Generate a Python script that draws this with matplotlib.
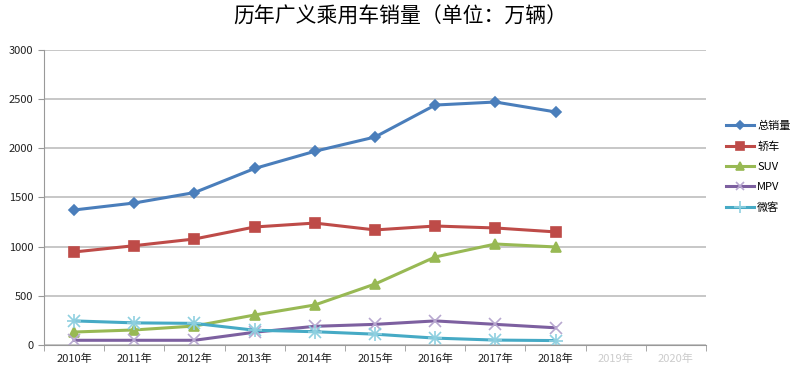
import numpy as np
import matplotlib.pyplot as plt

plt.rcParams['font.family'] = ['Noto Sans CJK SC', 'DejaVu Sans']

years = ['2010年', '2011年', '2012年', '2013年', '2014年', '2015年',
         '2016年', '2017年', '2018年', '2019年', '2020年']
total = [1373, 1444, 1550, 1795, 1970, 2115, 2440, 2471, 2370]
sedan = [946, 1010, 1078, 1200, 1240, 1170, 1210, 1190, 1150]
suv = [132, 153, 193, 305, 407, 620, 895, 1027, 997]
mpv = [48, 48, 48, 130, 190, 210, 245, 210, 175]
micro = [245, 225, 220, 150, 135, 110, 70, 50, 45]

series = [('总销量', total, '#4A7EBB', 'D', 5.5, '#4A7EBB'),
          ('轿车', sedan, '#BE4B48', 's', 6.5, '#BE4B48'),
          ('SUV', suv, '#98B954', '^', 6.5, '#98B954'),
          ('MPV', mpv, '#7D60A0', 'x', 8, '#b8a8d0'),
          ('微客', micro, '#46AAC5', 'x', 8, '#8fd0e0')]

fig = plt.figure(figsize=(8, 3.75), dpi=100)
ax = fig.add_axes([0.055, 0.08, 0.8275, 0.7867])

x = np.arange(len(total))
for name, vals, c, m, ms, mc in series:
    if name == '微客':
        ax.plot(x, vals, color=c, lw=2.2, marker='+', ms=10, mew=1.2, mec=mc, label=name)
        ax.plot(x, vals, color=c, lw=0, marker='x', ms=8, mew=1.2, mec=mc)
    else:
        ax.plot(x, vals, color=c, lw=2.2, marker=m, ms=ms, mew=1.2, mec=mc, label=name)

ax.set_xlim(-0.5, len(years) - 0.5)
ax.set_ylim(0, 3000)
ax.set_yticks(np.arange(0, 3001, 500))
ax.yaxis.grid(True, color='#bdbdbd', lw=1.2)
ax.set_axisbelow(True)
ax.set_xticks(np.arange(len(years)))
ax.set_xticklabels(years)
ax.set_xticks(np.arange(-0.5, len(years), 1), minor=True)
ax.tick_params(axis='x', which='major', length=0, labelsize=8, pad=6, labelcolor='#222222')
ax.tick_params(axis='x', which='minor', length=4, color='#999999', direction='out')
ax.tick_params(axis='y', length=4, color='#999999', labelsize=8, labelcolor='#222222')
for lbl in ax.get_xticklabels()[-2:]:
    lbl.set_color('#cccccc')
for s in ['top', 'right']:
    ax.spines[s].set_visible(False)
ax.spines['left'].set_color('#999999')
ax.spines['bottom'].set_color('#999999')

fig.suptitle('历年广义乘用车销量（单位：万辆）', fontsize=15, y=0.985)
ax.legend(loc='center left', bbox_to_anchor=(0.895, 0.555), bbox_transform=fig.transFigure,
          frameon=False, fontsize=8, handlelength=2.5, labelspacing=0.9, handletextpad=0.3,
          markerscale=0.8)

fig.savefig('out.png', dpi=100)
